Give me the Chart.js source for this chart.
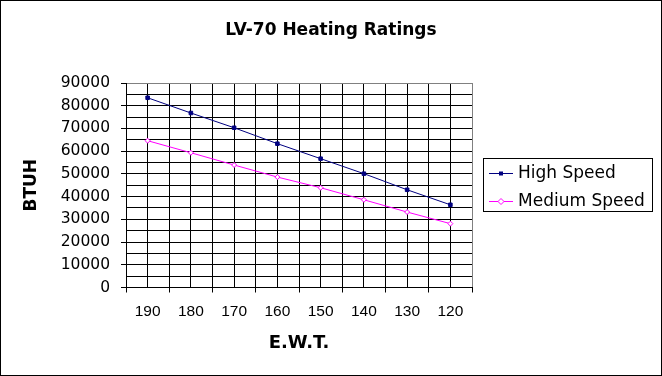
<!DOCTYPE html>
<html>
<head>
<meta charset="utf-8">
<style>
html, body { margin: 0; padding: 0; background: #fff; }
canvas { display: block; }
</style>
<script src="https://cdn.jsdelivr.net/npm/chart.js"></script>
</head>
<body>
<canvas id="c" width="662" height="376"></canvas>
<script>
const categories = ['190', '180', '170', '160', '150', '140', '130', '120'];
const highSpeed = [83500, 76800, 70300, 63300, 56700, 50100, 43000, 36400];
const mediumSpeed = [64600, 59300, 53900, 48600, 43900, 38600, 33200, 28100];
const seriesNames = ['High Speed', 'Medium Speed'];
const yMin = 0, yMax = 90000, yLabelStep = 10000, yGridStep = 5000;

const isWhole = v => Math.abs(v - Math.round(v)) < 1e-6;

const frame = {
  id: 'frame',
  beforeDraw(chart) {
    const ctx = chart.ctx;
    ctx.save();
    ctx.fillStyle = '#fff';
    ctx.fillRect(0, 0, chart.width, chart.height);
    ctx.restore();
  },
  afterDraw(chart) {
    const ctx = chart.ctx;
    ctx.save();
    ctx.strokeStyle = '#000';
    ctx.lineWidth = 1;
    ctx.strokeRect(0.5, 0.5, chart.width - 1, chart.height - 1);
    // legend
    ctx.strokeRect(483.5, 158.5, 169, 53);
    chart.data.datasets.forEach((ds, i) => {
      const y = 173 + i * 28;
      ctx.strokeStyle = ds.borderColor;
      ctx.beginPath();
      ctx.moveTo(489, y + 0.5);
      ctx.lineTo(513, y + 0.5);
      ctx.stroke();
      const mx = 501, my = y + 0.5;
      if (ds.pointStyle === 'rect') {
        ctx.fillStyle = ds.borderColor;
        ctx.fillRect(mx - 2, my - 2, 4, 4);
      } else {
        ctx.fillStyle = '#fff';
        ctx.beginPath();
        ctx.moveTo(mx, my - 3); ctx.lineTo(mx + 3, my); ctx.lineTo(mx, my + 3); ctx.lineTo(mx - 3, my);
        ctx.closePath();
        ctx.fill(); ctx.stroke();
      }
      ctx.fillStyle = '#000';
      ctx.font = '17px "DejaVu Sans"';
      ctx.textBaseline = 'middle';
      ctx.textAlign = 'left';
      ctx.fillText(ds.label, 518, y + 1);
    });
    ctx.restore();
  }
};

Chart.defaults.color = '#000';

new Chart(document.getElementById('c'), {
  type: 'line',
  data: {
    datasets: [
      {
        label: seriesNames[0],
        data: highSpeed.map((v, i) => ({ x: i, y: v })),
        borderColor: '#000080',
        backgroundColor: '#000080',
        borderWidth: 1,
        pointStyle: 'rect',
        pointRadius: 2.5,
        pointBorderWidth: 1,
        tension: 0
      },
      {
        label: seriesNames[1],
        data: mediumSpeed.map((v, i) => ({ x: i, y: v })),
        borderColor: '#FF00FF',
        backgroundColor: '#FFFFFF',
        borderWidth: 1,
        pointStyle: 'rectRot',
        pointRadius: 2.5,
        pointBorderWidth: 1,
        tension: 0
      }
    ]
  },
  options: {
    responsive: false,
    animation: false,
    devicePixelRatio: 1,
    layout: { padding: 0 },
    plugins: {
      legend: { display: false },
      tooltip: { enabled: false },
      title: {
        display: true,
        text: 'LV-70 Heating Ratings',
        color: '#000',
        font: { family: 'DejaVu Sans', size: 17, weight: 'bold', lineHeight: 1.2 },
        padding: { top: 20, bottom: 42.6 }
      }
    },
    scales: {
      x: {
        type: 'linear',
        min: -0.5,
        max: categories.length - 0.5,
        afterFit(scale) { scale.height = 88.5; },
        border: { display: true, color: '#000', width: 1 },
        grid: {
          color: ctx => (ctx.tick && ctx.tick.value >= categories.length - 0.5 - 1e-6) ? '#808080' : '#000',
          tickColor: ctx => (ctx.tick && !isWhole(ctx.tick.value)) ? '#000' : 'rgba(0,0,0,0)',
          tickLength: 5,
          lineWidth: 1
        },
        ticks: {
          stepSize: 0.5,
          autoSkip: false,
          maxRotation: 0,
          minRotation: 0,
          padding: 10,
          color: '#000',
          font: { family: 'Liberation Sans', size: 15.5 },
          callback: v => isWhole(v) ? categories[Math.round(v)] : ''
        },
        title: {
          display: true,
          text: 'E.W.T.',
          color: '#000',
          font: { family: 'DejaVu Sans', size: 18, weight: 'bold', lineHeight: 1.2 },
          padding: { top: 0, bottom: 22 }
        }
      },
      y: {
        type: 'linear',
        min: yMin,
        max: yMax,
        afterFit(scale) { scale.width = 126; },
        border: { display: true, color: '#000', width: 1 },
        grid: {
          color: ctx => (ctx.tick && ctx.tick.value >= yMax) ? '#808080' : '#000',
          tickColor: ctx => (ctx.tick && ctx.tick.value % yLabelStep === 0) ? '#000' : 'rgba(0,0,0,0)',
          tickLength: 5,
          lineWidth: 1
        },
        ticks: {
          stepSize: yGridStep,
          autoSkip: false,
          padding: 11,
          color: '#000',
          font: { family: 'DejaVu Sans', size: 15.5 },
          callback: v => (v % yLabelStep === 0) ? String(v) : ''
        },
        title: {
          display: true,
          text: 'BTUH',
          color: '#000',
          font: { family: 'DejaVu Sans', size: 17, weight: 'bold', lineHeight: 1.2 },
          padding: { top: 21, bottom: 0 }
        }
      },
      yRightSpace: {
        type: 'linear',
        position: 'right',
        display: true,
        min: yMin,
        max: yMax,
        afterFit(scale) { scale.width = 190; },
        border: { display: false },
        grid: { display: false, drawOnChartArea: false, drawTicks: false },
        ticks: { display: false },
        title: { display: false }
      }
    }
  },
  plugins: [frame]
});
</script>
</body>
</html>
